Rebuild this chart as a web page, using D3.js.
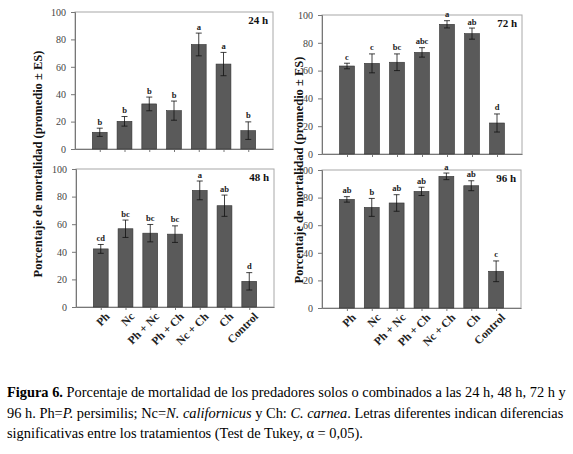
<!DOCTYPE html>
<html>
<head>
<meta charset="utf-8">
<script src="https://cdn.jsdelivr.net/npm/d3@7"></script>
<style>
  body { margin: 0; background: #fff; }
  svg, svg text { font-family: "Liberation Serif", "Times New Roman", serif !important; }
</style>
</head>
<body>
<svg width="573" height="454"></svg>
<script>
// treatments
let categories = ['Ph', 'Nc', 'Ph + Nc', 'Ph + Ch', 'Nc + Ch', 'Ch', 'Control'];
let yTicks = [0, 20, 40, 60, 80, 100];

// mean mortality (%) and standard error
let mean24 = [12.2, 20.2, 32.9, 28, 76.3, 62, 13.4];
let se24 = [3, 3.5, 5, 7, 8.3, 8.5, 6.4];
let letters24 = ['b', 'b', 'b', 'b', 'a', 'a', 'b'];

let mean48 = [42.1, 56.7, 53.5, 52.8, 84.5, 73.4, 18.6];
let se48 = [3.2, 6.3, 6.3, 6, 6.8, 7.7, 6.3];
let letters48 = ['cd', 'bc', 'bc', 'bc', 'a', 'ab', 'd'];

let mean72 = [63.3, 65.2, 66, 73.1, 93.3, 86.6, 22.3];
let se72 = [2, 6.8, 6, 3.4, 2.6, 4, 6.5];
let letters72 = ['c', 'c', 'bc', 'abc', 'a', 'ab', 'd'];

let mean96 = [78.7, 72.9, 76.1, 84.5, 95.4, 88.6, 26.6];
let se96 = [2, 6.5, 6, 3, 2.4, 3.6, 7.5];
let letters96 = ['ab', 'b', 'ab', 'ab', 'a', 'ab', 'c'];

let svg = d3.select('svg');

// panel boxes (layout only)
let panels = [
    {label: '24 h', mean: mean24, se: se24, letters: letters24, x0: 75, x1: 273, y0: 12, y1: 149, xLabels: false},
    {label: '48 h', mean: mean48, se: se48, letters: letters48, x0: 76, x1: 274, y0: 169, y1: 307, xLabels: true},
    {label: '72 h', mean: mean72, se: se72, letters: letters72, x0: 322, x1: 522, y0: 15, y1: 154, xLabels: false},
    {label: '96 h', mean: mean96, se: se96, letters: letters96, x0: 322, x1: 521, y0: 170, y1: 308, xLabels: true}
];

panels.forEach(p => drawPanel(p));

function drawPanel(p) {
    let g = svg.append('g');

    let x = d3.scalePoint()
        .domain(categories)
        .range([p.x0, p.x1])
        .padding(1);
    let y = d3.scaleLinear()
        .domain([0, 100])
        .range([p.y1, p.y0]);
    let barW = x.step() * 0.6;

    // frame
    g.append('rect')
        .attr('x', p.x0).attr('y', p.y0)
        .attr('width', p.x1 - p.x0).attr('height', p.y1 - p.y0)
        .attr('fill', 'none')
        .attr('stroke', '#a8a8a8')
        .attr('stroke-width', 1);

    // y axis
    let yAxis = g.append('g')
        .attr('transform', `translate(${p.x0},0)`)
        .call(d3.axisLeft(y).tickValues(yTicks).tickSize(4).tickPadding(5));
    yAxis.attr('font-family', null);
    yAxis.select('.domain').attr('stroke', '#777');
    yAxis.selectAll('.tick line').attr('stroke', '#777');
    yAxis.selectAll('text')
        .attr('fill', '#444')
        .style('font-size', '10px');

    // x axis
    let xAxis = g.append('g')
        .attr('transform', `translate(0,${p.y1})`)
        .call(d3.axisBottom(x).tickSize(3).tickSizeOuter(0));
    xAxis.attr('font-family', null);
    xAxis.select('.domain').attr('stroke', '#777');
    xAxis.selectAll('.tick line').attr('stroke', '#777');
    if (p.xLabels) {
        xAxis.selectAll('text')
            .attr('fill', '#222')
            .style('font-size', '11.5px')
            .style('font-weight', 'bold')
            .attr('text-anchor', 'end')
            .attr('dx', '0.3em')
            .attr('dy', '0.3em')
            .attr('transform', 'translate(0,6) rotate(-45)');
    } else {
        xAxis.selectAll('text').remove();
    }

    let rows = categories.map((c, i) => ({cat: c, m: p.mean[i], e: p.se[i], l: p.letters[i]}));

    // bars
    g.selectAll('rect.bar')
        .data(rows)
        .join('rect')
        .attr('class', 'bar')
        .attr('x', d => x(d.cat) - barW / 2)
        .attr('width', barW)
        .attr('y', d => y(d.m))
        .attr('height', d => y(0) - y(d.m))
        .attr('fill', '#5a5a5a')
        .attr('stroke', '#333')
        .attr('stroke-width', 0.6);

    // error bars
    let capW = 3;
    let err = g.selectAll('g.err')
        .data(rows)
        .join('g')
        .attr('class', 'err')
        .attr('stroke', '#111')
        .attr('stroke-width', 0.8);
    err.append('line')
        .attr('x1', d => x(d.cat)).attr('x2', d => x(d.cat))
        .attr('y1', d => y(d.m - d.e)).attr('y2', d => y(d.m + d.e));
    err.append('line')
        .attr('x1', d => x(d.cat) - capW).attr('x2', d => x(d.cat) + capW)
        .attr('y1', d => y(d.m + d.e)).attr('y2', d => y(d.m + d.e));
    err.append('line')
        .attr('x1', d => x(d.cat) - capW).attr('x2', d => x(d.cat) + capW)
        .attr('y1', d => y(d.m - d.e)).attr('y2', d => y(d.m - d.e));

    // Tukey letters
    g.selectAll('text.letter')
        .data(rows)
        .join('text')
        .attr('class', 'letter')
        .attr('x', d => x(d.cat))
        .attr('y', d => y(d.m + d.e) - 3.5)
        .attr('text-anchor', 'middle')
        .attr('fill', '#222')
        .style('font-size', '8.5px')
        .style('font-weight', 'bold')
        .text(d => d.l);

    // time label
    g.append('text')
        .attr('x', p.x1 - 5)
        .attr('y', p.y0 + 12)
        .attr('text-anchor', 'end')
        .attr('fill', '#111')
        .style('font-size', '11px')
        .style('font-weight', 'bold')
        .text(p.label);
}

// y axis titles, one per column
[{x: 42, y: 164}, {x: 303, y: 170}].forEach(t => {
    svg.append('text')
        .attr('transform', `translate(${t.x},${t.y}) rotate(-90)`)
        .attr('text-anchor', 'middle')
        .attr('fill', '#111')
        .style('font-size', '12.5px')
        .style('font-weight', 'bold')
        .text('Porcentaje de mortalidad (promedio ± ES)');
});

// caption
let capSize = '14.4px';
let l1 = svg.append('text').attr('fill', '#000').style('font-size', capSize)
    .attr('x', 7).attr('y', 397);
l1.append('tspan').style('font-weight', 'bold').text('Figura 6.');
l1.append('tspan').text(' Porcentaje de mortalidad de los predadores solos o combinados a las 24 h, 48 h, 72 h y');

let l2 = svg.append('text').attr('fill', '#000').style('font-size', capSize)
    .attr('x', 7).attr('y', 417.5);
l2.append('tspan').text('96 h. Ph=');
l2.append('tspan').style('font-style', 'italic').text('P.');
l2.append('tspan').text(' persimilis; Nc=');
l2.append('tspan').style('font-style', 'italic').text('N. californicus');
l2.append('tspan').text(' y Ch: ');
l2.append('tspan').style('font-style', 'italic').text('C. carnea');
l2.append('tspan').text('. Letras diferentes indican diferencias');

svg.append('text').attr('fill', '#000').style('font-size', capSize)
    .attr('x', 7).attr('y', 438)
    .text('significativas entre los tratamientos (Test de Tukey, α = 0,05).');
</script>
</body>
</html>
